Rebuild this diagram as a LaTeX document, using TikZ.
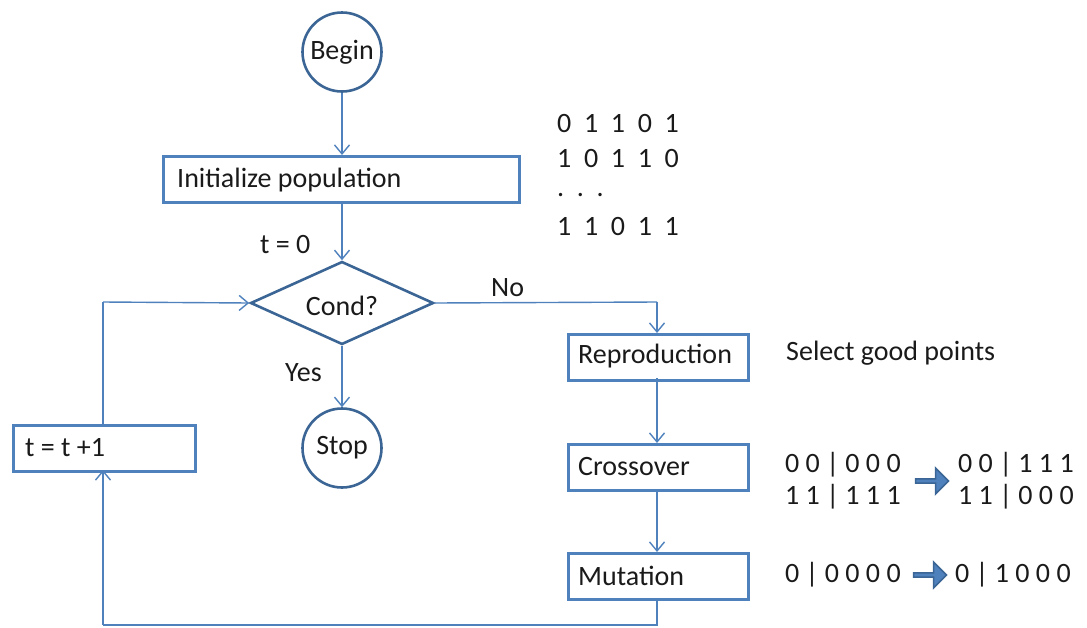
\documentclass[tikz,border=0pt]{standalone}
\usepackage{fontspec}
\setmainfont{Carlito}
\usetikzlibrary{arrows.meta,shapes.geometric,shapes.arrows}
\definecolor{boxblue}{HTML}{4F81BD}
\definecolor{darkblue}{HTML}{3A6594}
\definecolor{txt}{HTML}{1A1A1A}
\begin{document}
\begin{tikzpicture}[x=1pt,y=-1pt,
  every node/.style={font=\fontsize{28}{32}\selectfont, text=txt},
  procbox/.style={draw=boxblue, line width=3pt, minimum height=46pt, anchor=north west, inner sep=0pt},
  termcirc/.style={draw=darkblue, line width=2.6pt, circle, minimum size=79pt, inner sep=0pt},
  decision/.style={draw=darkblue, line width=2.6pt, diamond, inner sep=0pt, minimum width=183pt, minimum height=83pt, aspect=2.2},
  conn/.style={draw=boxblue, line width=1.4pt},
  arr/.style={conn, -{Straight Barb[length=9pt, width=15pt, line width=1.4pt]}},
  plain/.style={anchor=west, inner sep=0pt},
  blockarr/.style={single arrow, draw=darkblue, fill=boxblue, line width=1.5pt, minimum height=33pt, minimum width=26pt, single arrow head extend=4pt, single arrow tip angle=90, inner sep=0pt}
]
\useasboundingbox (0,0) rectangle (1087,627);

\node[termcirc] (begin) at (342,52) {Begin};
\node[procbox, minimum width=356pt] (init) at (162,155) {};
\node[plain] (initt) at (177,180) {Initialize population};
\node[decision] (cond) at (342,303) {};
\node (condt) at (342,306) {Cond?};
\node[termcirc] (stop) at (342,448) {Stop};
\node[procbox, minimum width=180pt] (repr) at (567,333) {};
\node[plain] (reprt) at (578,356) {Reproduction};
\node[procbox, minimum width=180pt] (cross) at (567,443) {};
\node[plain] (crosst) at (578,467) {Crossover};
\node[procbox, minimum width=180pt] (mut) at (567,552) {};
\node[plain] (mutt) at (578,576) {Mutation};
\node[procbox, minimum width=182pt] (inc) at (12,424) {};
\node[plain] (inct) at (25,448) {t = t +1};

\coordinate (c1) at (657,302);
\coordinate (c2) at (657,625);
\coordinate (c3) at (103,625);
\coordinate (c4) at (103,302);

\draw[arr] (begin.south) -- (begin.south |- init.north);
\draw[arr] (342,202) -- (cond.north);
\draw[conn] (cond.east) -- (c1);
\draw[arr] (c1) -- (repr.north -| c1);
\draw[arr] (cond.south) -- (stop.north);
\draw[arr] (657,378) -- (657,443);
\draw[arr] (657,490) -- (657,552);
\draw[conn] (657,598) -- (c2) -- (c3);
\draw[arr] (c3) -- (103,470);
\draw[conn] (103,424) -- (c4);
\draw[arr] (c4) -- (cond.west);

\node[plain] (t0) at (260,245) {t = 0};
\node[plain] (no) at (491,288) {No};
\node[plain] (yes) at (285,373) {Yes};
\node[plain] (sel) at (786,353) {Select good points};

\node[plain] (b1) at (557,124) {0\ \ 1\ \ 1\ \ 0\ \ 1};
\node[plain] (b2) at (557,159) {1\ \ 0\ \ 1\ \ 1\ \ 0};
\node[plain] (b3) at (557,195) {.\ \ .\ \ .};
\node[plain] (b4) at (557,227) {1\ \ 1\ \ 0\ \ 1\ \ 1};

\node[plain] (x1) at (785,465) {0 0 | 0 0 0};
\node[plain] (x2) at (785,497) {1 1 | 1 1 1};
\node[blockarr] (xa) at (931,481) {};
\node[plain] (x3) at (958,465) {0 0 | 1 1 1};
\node[plain] (x4) at (958,497) {1 1 | 0 0 0};

\node[plain] (m1) at (785,575) {0 | 0 0 0 0};
\node[blockarr] (ma) at (929,575) {};
\node[plain] (m2) at (955,575) {0 | 1 0 0 0};
\end{tikzpicture}
\end{document}
